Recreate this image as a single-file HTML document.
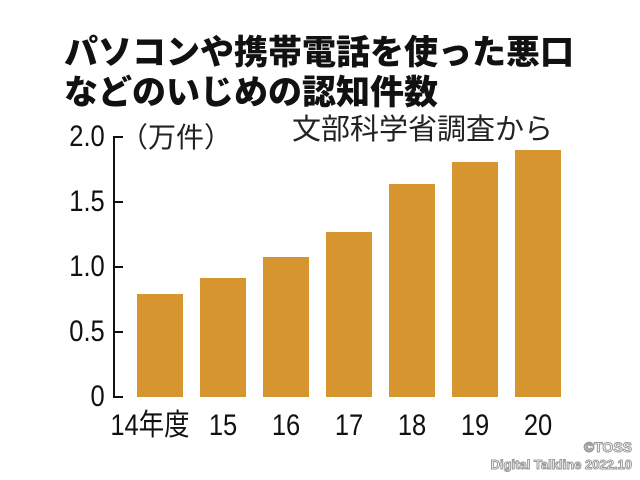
<!DOCTYPE html>
<html><head><meta charset="utf-8"><style>
body{margin:0;background:#fff;width:640px;height:480px;overflow:hidden;position:relative;font-family:"Liberation Sans","Noto Sans CJK JP",sans-serif}
.t{position:absolute;white-space:nowrap;line-height:1}
.ti{font-weight:900;font-size:34px;color:#111;left:64px}
.tk{font-size:30px;color:#111;transform:scaleX(0.85);transform-origin:right center}
.xl{font-size:30px;color:#111;transform:scaleX(0.85);transform-origin:center}
.bar{position:absolute;background:#d6952e;width:46px;bottom:83px}
</style></head><body>
<div class="t ti" style="top:36px">パソコンや携帯電話を使った悪口</div>
<div class="t ti" style="top:76px">などのいじめの認知件数</div>
<div class="t" style="left:292px;top:116px;font-size:29px;color:#222">文部科学省調査から</div>
<div class="t" style="left:120px;top:124px;font-size:28px;color:#222">（万件）</div>
<div style="position:absolute;left:113px;top:136px;width:2px;height:262px;background:#111"></div>
<div style="position:absolute;left:113px;top:136px;width:10px;height:2px;background:#111"></div>
<div style="position:absolute;left:113px;top:201px;width:10px;height:2px;background:#111"></div>
<div style="position:absolute;left:113px;top:266px;width:10px;height:2px;background:#111"></div>
<div style="position:absolute;left:113px;top:331px;width:10px;height:2px;background:#111"></div>
<div style="position:absolute;left:113px;top:396px;width:10px;height:2px;background:#111"></div>
<div class="t tk" style="right:535px;top:122px">2.0</div>
<div class="t tk" style="right:535px;top:187px">1.5</div>
<div class="t tk" style="right:535px;top:252px">1.0</div>
<div class="t tk" style="right:535px;top:317px">0.5</div>
<div class="t tk" style="right:535px;top:382px">0</div>
<div class="bar" style="left:137px;top:294px"></div>
<div class="bar" style="left:200px;top:278px"></div>
<div class="bar" style="left:263px;top:257px"></div>
<div class="bar" style="left:326px;top:232px"></div>
<div class="bar" style="left:389px;top:184px"></div>
<div class="bar" style="left:452px;top:162px"></div>
<div class="bar" style="left:515px;top:150px"></div>
<div class="t xl" style="left:100px;top:411px;width:100px;text-align:center">14年度</div>
<div class="t xl" style="left:193px;top:411px;width:60px;text-align:center">15</div>
<div class="t xl" style="left:256px;top:411px;width:60px;text-align:center">16</div>
<div class="t xl" style="left:319px;top:411px;width:60px;text-align:center">17</div>
<div class="t xl" style="left:382px;top:411px;width:60px;text-align:center">18</div>
<div class="t xl" style="left:445px;top:411px;width:60px;text-align:center">19</div>
<div class="t xl" style="left:508px;top:411px;width:60px;text-align:center">20</div>
<div class="t" style="right:8px;top:440px;font-size:14px;font-weight:bold;color:#fff;-webkit-text-stroke:1px #999">©TOSS</div>
<div class="t" style="right:8px;top:458px;font-size:13px;font-weight:bold;color:#fff;-webkit-text-stroke:1px #999">Digital Talkline 2022.10</div>
</body></html>
